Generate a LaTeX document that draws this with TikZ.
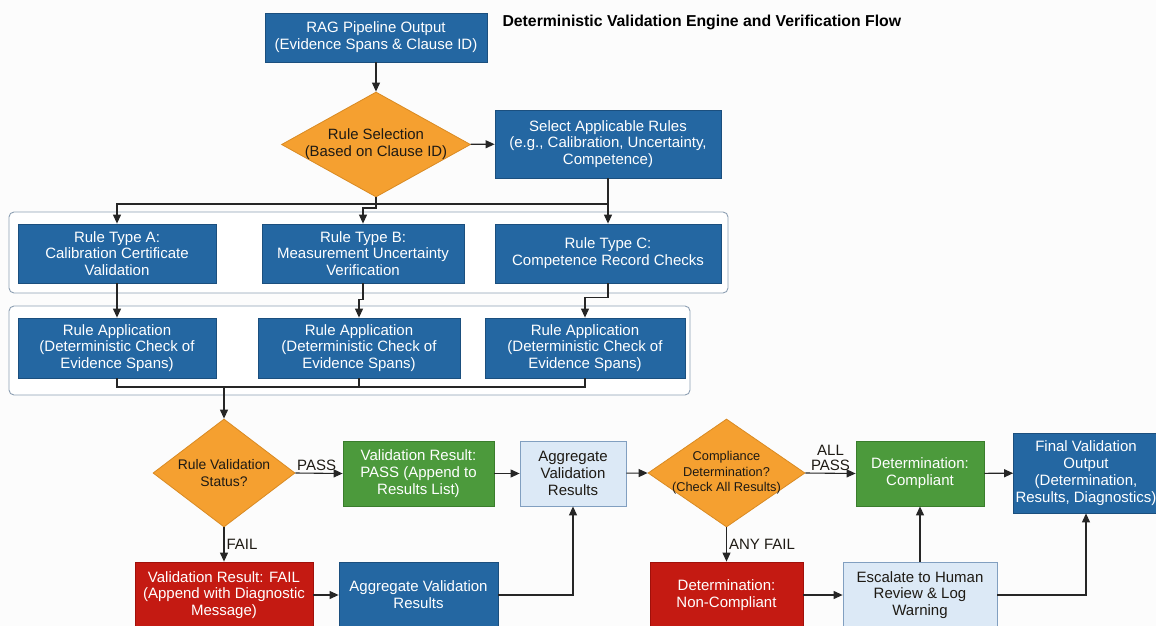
\documentclass[tikz,border=0pt]{standalone}
\usepackage{fontspec}
\setmainfont{Liberation Sans}
\usetikzlibrary{positioning,shapes.geometric,arrows.meta}

\definecolor{pageback}{HTML}{FCFCFC}
\definecolor{stepblue}{HTML}{2467A2}
\definecolor{stepblueline}{HTML}{1B4F7E}
\definecolor{paleblue}{HTML}{DCE9F6}
\definecolor{paleblueline}{HTML}{819FC0}
\definecolor{decorange}{HTML}{F5A030}
\definecolor{decorangeline}{HTML}{D98A22}
\definecolor{okgreen}{HTML}{4C9A3C}
\definecolor{okgreenline}{HTML}{3A7D2C}
\definecolor{failred}{HTML}{C41A12}
\definecolor{failredline}{HTML}{A0100A}
\definecolor{groupline}{HTML}{8D9FB3}
\definecolor{wire}{HTML}{262626}
\definecolor{darktext}{HTML}{1E1A14}

\newcommand{\flowfont}{\fontsize{15}{16.8}\selectfont}

\tikzset{
	stepbox/.style={rectangle, draw=stepblueline, fill=stepblue, text=white, line width=0.8pt, align=center, inner sep=2pt, font=\flowfont},
	palebox/.style={stepbox, draw=paleblueline, fill=paleblue, text=darktext},
	passbox/.style={stepbox, draw=okgreenline, fill=okgreen, text=white},
	failbox/.style={stepbox, draw=failredline, fill=failred, text=white},
	decision/.style={diamond, draw=decorangeline, fill=decorange, text=darktext, line width=0.8pt, align=center, inner xsep=-40pt, inner ysep=-10pt},
	group/.style={draw=groupline, fill=white, line width=0.9pt, rounded corners=5pt},
	wire/.style={draw=wire, line width=1.1pt},
	flow/.style={wire, -{Triangle[length=9pt,width=8pt]}},
	edgelabel/.style={font=\flowfont, text=darktext, inner sep=2pt}
}

\begin{document}
\begin{tikzpicture}[x=1pt, y=-1pt]
	\useasboundingbox (0,0) rectangle (1156,626);
	\clip (0,0) rectangle (1156,626);
	\fill[pageback] (0,0) rectangle (1156,626);

	\draw[group] (9,212) rectangle (728,293);
	\draw[group] (9,306) rectangle (690,395);

	\node[anchor=west, font=\fontsize{15.8}{18}\selectfont\bfseries] (title) at (499,22) {Deterministic Validation Engine and Verification Flow};

	\node[stepbox, minimum width=222pt, minimum height=49pt] (rag) at (376,37.5) {RAG Pipeline Output\\(Evidence Spans \& Clause ID)};
	\node[decision, minimum width=189pt, minimum height=105pt, font=\fontsize{14.9}{17}\selectfont] (sel) at (376,144.5) {Rule Selection\\(Based on Clause ID)};
	\node[stepbox, minimum width=226pt, minimum height=68pt] (sar) at (608,144) {Select Applicable Rules\\(e.g., Calibration, Uncertainty,\\Competence)};

	\node[stepbox, minimum width=198pt, minimum height=59pt] (ra) at (117,253.5) {Rule Type A:\\Calibration Certificate\\Validation};
	\node[stepbox, minimum width=202pt, minimum height=59pt] (rb) at (363,253.5) {Rule Type B:\\Measurement Uncertainty\\Verification};
	\node[stepbox, minimum width=226pt, minimum height=59pt] (rc) at (608,253.5) {Rule Type C:\\Competence Record Checks};

	\node[stepbox, minimum width=198pt, minimum height=60pt] (app1) at (117,348) {Rule Application\\(Deterministic Check of\\Evidence Spans)};
	\node[stepbox, minimum width=202pt, minimum height=60pt] (app2) at (359,348) {Rule Application\\(Deterministic Check of\\Evidence Spans)};
	\node[stepbox, minimum width=200pt, minimum height=60pt] (app3) at (585,348) {Rule Application\\(Deterministic Check of\\Evidence Spans)};

	\node[decision, minimum width=142pt, minimum height=108pt, font=\fontsize{13.9}{16.5}\selectfont] (rvs) at (224,473) {Rule Validation\\Status?};
	\node[passbox, minimum width=151pt, minimum height=65pt] (pass) at (418.5,473.5) {Validation Result:\\PASS (Append to\\Results List)};
	\node[palebox, minimum width=106pt, minimum height=65pt] (agg1) at (573,473.5) {Aggregate\\Validation\\Results};
	\node[decision, minimum width=157pt, minimum height=108pt, font=\fontsize{12.8}{15.5}\selectfont] (cd) at (726.5,473) {Compliance\\Determination?\\(Check All Results)};
	\node[passbox, minimum width=128pt, minimum height=65pt] (comp) at (920,473.5) {Determination:\\Compliant};
	\node[stepbox, minimum width=144pt, minimum height=80pt] (final) at (1086,473) {Final Validation\\Output\\(Determination,\\Results, Diagnostics)};

	\node[failbox, minimum width=178pt, minimum height=66pt] (fail) at (224,595) {Validation Result: FAIL\\(Append with Diagnostic\\Message)};
	\node[stepbox, minimum width=159pt, minimum height=66pt] (agg2) at (418.5,595) {Aggregate Validation\\Results};
	\node[failbox, minimum width=153pt, minimum height=66pt] (nc) at (726.5,595) {Determination:\\Non-Compliant};
	\node[palebox, minimum width=154pt, minimum height=66pt] (esc) at (920,595) {Escalate to Human\\Review \& Log\\Warning};

	\coordinate (split) at (376,204);
	\coordinate (merge) at (224,387);

	\draw[flow] (rag) -- (sel);
	\draw[flow] (sel) -- (sar);
	\draw[wire] (sel.south) -- (split);
	\draw[flow] (split) -| (ra.north);
	\draw[flow] (split) -- ++(0,4) -| (rb.north);
	\draw[wire] (split) -- (split -| sar.south);
	\draw[flow] (sar) -- (rc);

	\draw[flow] (ra) -- (app1);
	\draw[flow] (rb.south) -- ++(0,16) -| (app2.north);
	\draw[flow] (rc.south) -- ++(0,14) -| (app3.north);

	\draw[wire] (app1.south) |- (app3.south |- merge) -- (app3.south);
	\draw[wire] (app2.south) -- (app2.south |- merge);
	\draw[flow] (merge) -- (rvs.north);

	\draw[flow] (rvs.east) -- node[edgelabel, above, pos=0.45] {PASS} (pass.west);
	\draw[flow] (pass) -- (agg1);
	\draw[flow] (agg1) -- (cd.west);
	\draw[flow] (cd.east) -- node[edgelabel, above, align=center, font=\fontsize{15}{15.5}\selectfont] {ALL\\PASS} (comp.west);
	\draw[flow] (comp) -- (final);

	\draw[flow] (rvs.south) -- node[edgelabel, right] {FAIL} (fail.north);
	\draw[flow] (fail) -- (agg2);
	\draw[flow] (agg2.east) -| (agg1.south);
	\draw[flow] (cd.south) -- node[edgelabel, right] {ANY FAIL} (nc.north);
	\draw[flow] (nc) -- (esc);
	\draw[flow] (esc.north) -- (comp.south);
	\draw[flow] (esc.east) -| (final.south);
\end{tikzpicture}
\end{document}
